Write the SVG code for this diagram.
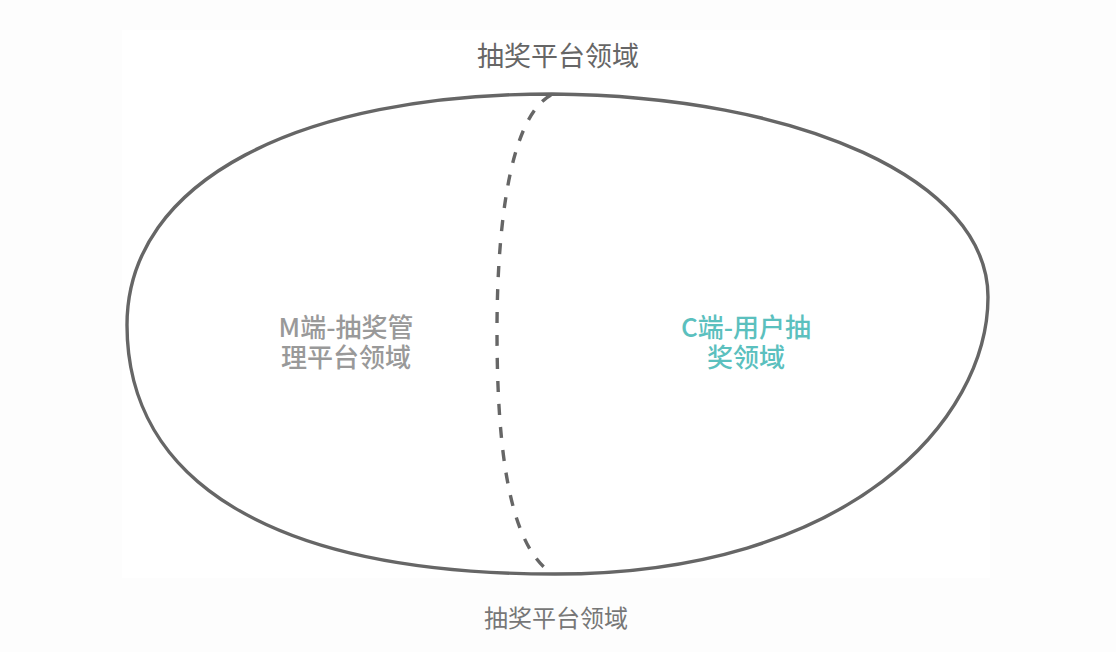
<svg xmlns="http://www.w3.org/2000/svg" width="1116" height="652" viewBox="0 0 1116 652">
<style>
.t{font-family:"Noto Sans CJK SC","Liberation Sans",sans-serif;text-anchor:middle}
.outline{fill:none;stroke:#666;stroke-width:3.4;stroke-linejoin:round}
.divider{fill:none;stroke:#666;stroke-width:3.4;stroke-dasharray:11 12}
</style>
<rect x="0" y="0" width="1116" height="652" fill="#fdfdfd"/>
<rect x="122" y="30" width="868" height="548" fill="#ffffff"/>
<g id="domain">
<path class="outline" d="M552,94 C800,96 988,180 988,297 C988,420 850,574 555,574 C270,574 127,480 127,325 C127,180 300,94 552,94 Z"/>
</g>
<g id="connectors">
<path class="divider" d="M551,95 C505,120 497,250 497,330 C497,430 505,540 550,572"/>
</g>
<g id="title-top">
<text class="t" x="558" y="66" font-size="27" fill="#666">抽奖平台领域</text>
</g>
<g id="m-side">
<text class="t" font-size="26" font-weight="500" fill="#999"><tspan x="346" y="337">M端-抽奖管</tspan><tspan x="346" y="367">理平台领域</tspan></text>
</g>
<g id="c-side">
<text class="t" font-size="26" font-weight="500" fill="#5bc0be"><tspan x="746" y="337">C端-用户抽</tspan><tspan x="746" y="367">奖领域</tspan></text>
</g>
<g id="title-bottom">
<text class="t" x="556" y="627" font-size="24" fill="#777">抽奖平台领域</text>
</g>
</svg>
